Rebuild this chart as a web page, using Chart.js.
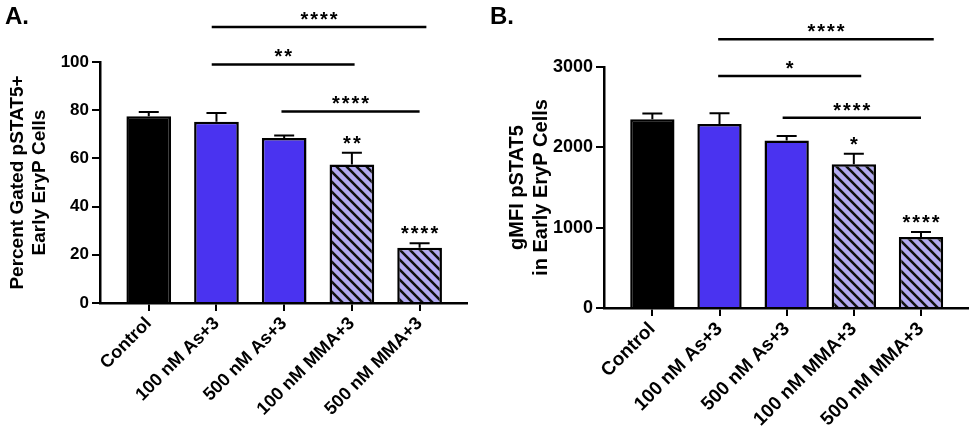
<!DOCTYPE html>
<html lang="en">
<head>
<meta charset="UTF-8">
<title>pSTAT5 in Early EryP Cells</title>
<script src="https://cdn.jsdelivr.net/npm/chart.js"></script>
<style>
  body { margin: 0; background: #fff; width: 975px; height: 432px; position: relative; overflow: hidden; font-family: "Liberation Sans", Arial, sans-serif; }
  .panel { position: absolute; top: 0; }
  .tag { position: absolute; font-weight: bold; font-size: 24px; line-height: 1; }
</style>
</head>
<body>
<div class="panel" style="left:0"><canvas id="grafico-a" width="480" height="432"></canvas></div>
<div class="panel" style="left:480px"><canvas id="grafico-b" width="495" height="432"></canvas></div>
<div class="tag" style="left:5px;top:4px">A.</div>
<div class="tag" style="left:490px;top:4px">B.</div>

<script>
// groups
const categorias = ['Control', '100 nM As+3', '500 nM As+3', '100 nM MMA+3', '500 nM MMA+3'];

// panel A: percent gated pSTAT5+ (mean, SEM)
const mediasA = [77.5, 75.2, 68.5, 57.5, 22.9];
const semA = [1.8, 3.6, 1.0, 4.8, 1.9];
const estrelasA = ['', '', '', '**', '****'];
// [from, to, y, label]
const colchetesA = [[0.93, 4.1, 114.5, '****'], [0.93, 3.04, 99, '**'], [1.96, 4.0, 79.5, '****']];
const ticksA = [0, 20, 40, 60, 80, 100];

// panel B: gMFI pSTAT5 (mean, SEM)
const mediasB = [2350, 2290, 2085, 1790, 885];
const semB = [70, 135, 55, 130, 60];
const estrelasB = ['', '', '', '*', '****'];
const colchetesB = [[0.98, 4.19, 3345, '****'], [0.98, 3.11, 2889, '*'], [1.94, 4.0, 2368, '****']];
const ticksB = [0, 1000, 2000, 3000];

const FONTE = '"Liberation Sans", Arial, sans-serif';
const AZUL = '#4a33f0';
const LILAS = '#b3abf2';

function hachura() {
  const n = 10;
  const c = document.createElement('canvas');
  c.width = n; c.height = n;
  const g = c.getContext('2d');
  g.fillStyle = LILAS;
  g.fillRect(0, 0, n, n);
  g.strokeStyle = '#111';
  g.lineWidth = 2.6;
  g.beginPath();
  g.moveTo(-2, -2); g.lineTo(n + 2, n + 2);
  g.moveTo(-2, n - 2); g.lineTo(2, n + 2);
  g.moveTo(n - 2, -2); g.lineTo(n + 2, 2);
  g.stroke();
  return g.createPattern(c, 'repeat');
}

// error bars, stars and comparison brackets
const decoracao = {
  id: 'deco',
  afterDatasetsDraw(chart, args, opts) {
    const { ctx, scales: { x, y } } = chart;
    ctx.save();
    ctx.strokeStyle = '#000';
    ctx.fillStyle = '#000';
    ctx.lineWidth = 2;
    ctx.font = 'bold 20px ' + FONTE;
    ctx.letterSpacing = '2px';
    ctx.textAlign = 'center';
    ctx.textBaseline = 'alphabetic';
    opts.medias.forEach((m, i) => {
      const px = x.getPixelForValue(i);
      const base = y.getPixelForValue(m);
      const topo = y.getPixelForValue(m + opts.sem[i]);
      ctx.beginPath();
      ctx.moveTo(px, base);
      ctx.lineTo(px, topo);
      ctx.moveTo(px - 10, topo);
      ctx.lineTo(px + 10, topo);
      ctx.stroke();
      if (opts.estrelas[i]) ctx.fillText(opts.estrelas[i], px + 1, topo - 3);
    });
    ctx.lineWidth = 2.5;
    opts.colchetes.forEach(([de, ate, v, txt]) => {
      const x1 = x.getPixelForValue(de), x2 = x.getPixelForValue(ate);
      const py = y.getPixelForValue(v);
      ctx.beginPath();
      ctx.moveTo(x1, py);
      ctx.lineTo(x2, py);
      ctx.stroke();
      ctx.fillText(txt, (x1 + x2) / 2 + 1, py - 1);
    });
    ctx.restore();
  }
};

function criarGrafico(id, cfg) {
  const padrao = hachura();
  return new Chart(document.getElementById(id), {
    type: 'bar',
    data: {
      datasets: [{
        data: cfg.medias.map((v, i) => ({ x: i, y: v })),
        backgroundColor: ['#000', AZUL, AZUL, padrao, padrao],
        borderColor: '#000',
        borderWidth: 2.5,
        borderSkipped: 'bottom',
        barPercentage: 0.66,
        categoryPercentage: 1
      }]
    },
    options: {
      responsive: false,
      animation: false,
      devicePixelRatio: 1,
      layout: { padding: cfg.padding },
      plugins: {
        legend: { display: false },
        tooltip: { enabled: false },
        deco: { medias: cfg.medias, sem: cfg.sem, estrelas: cfg.estrelas, colchetes: cfg.colchetes }
      },
      scales: {
        x: {
          type: 'linear',
          min: -0.72,
          max: 4.7,
          offset: false,
          afterBuildTicks: s => { s.ticks = categorias.map((_, i) => ({ value: i })); },
          afterFit: s => { s.height = cfg.xAltura; },
          ticks: {
            autoSkip: false,
            minRotation: 45,
            maxRotation: 45,
            padding: 2,
            color: '#000',
            font: { family: FONTE, size: cfg.xFonte, weight: 'bold' },
            callback: v => categorias[v]
          },
          grid: { offset: false, drawOnChartArea: false, drawTicks: true, tickLength: 8, color: '#000', lineWidth: 2 },
          border: { display: true, color: '#000', width: 2.5 }
        },
        y: {
          min: cfg.yTicks[0],
          max: cfg.yTicks[cfg.yTicks.length - 1],
          afterBuildTicks: s => { s.ticks = cfg.yTicks.map(v => ({ value: v })); },
          afterFit: s => { s.width = cfg.yLargura; },
          ticks: {
            padding: 3,
            color: '#000',
            font: { family: FONTE, size: cfg.yFonte, weight: 'bold' },
            callback: v => String(v)
          },
          grid: { drawOnChartArea: false, drawTicks: true, tickLength: 8, color: '#000', lineWidth: 2 },
          border: { display: true, color: '#000', width: 2.5 },
          title: {
            display: true,
            text: cfg.titulo,
            color: '#000',
            padding: { top: cfg.tituloPad, bottom: 0 },
            font: { family: FONTE, size: cfg.tituloFonte, weight: 'bold', lineHeight: 1.2 }
          }
        }
      }
    },
    plugins: [decoracao]
  });
}

criarGrafico('grafico-a', {
  medias: mediasA, sem: semA, estrelas: estrelasA, colchetes: colchetesA, yTicks: ticksA,
  titulo: ['Percent Gated pSTAT5+', 'Early EryP Cells'],
  yLargura: 100, xAltura: 129, padding: { top: 62, right: 13, left: 0, bottom: 0 },
  tituloPad: 6, tituloFonte: 19, yFonte: 17, xFonte: 18
});
criarGrafico('grafico-b', {
  medias: mediasB, sem: semB, estrelas: estrelasB, colchetes: colchetesB, yTicks: ticksB,
  titulo: ['gMFI pSTAT5', 'in Early EryP Cells'],
  yLargura: 124, xAltura: 124, padding: { top: 67, right: 7, left: 0, bottom: 0 },
  tituloPad: 25, tituloFonte: 20, yFonte: 18, xFonte: 19
});
</script>
</body>
</html>
